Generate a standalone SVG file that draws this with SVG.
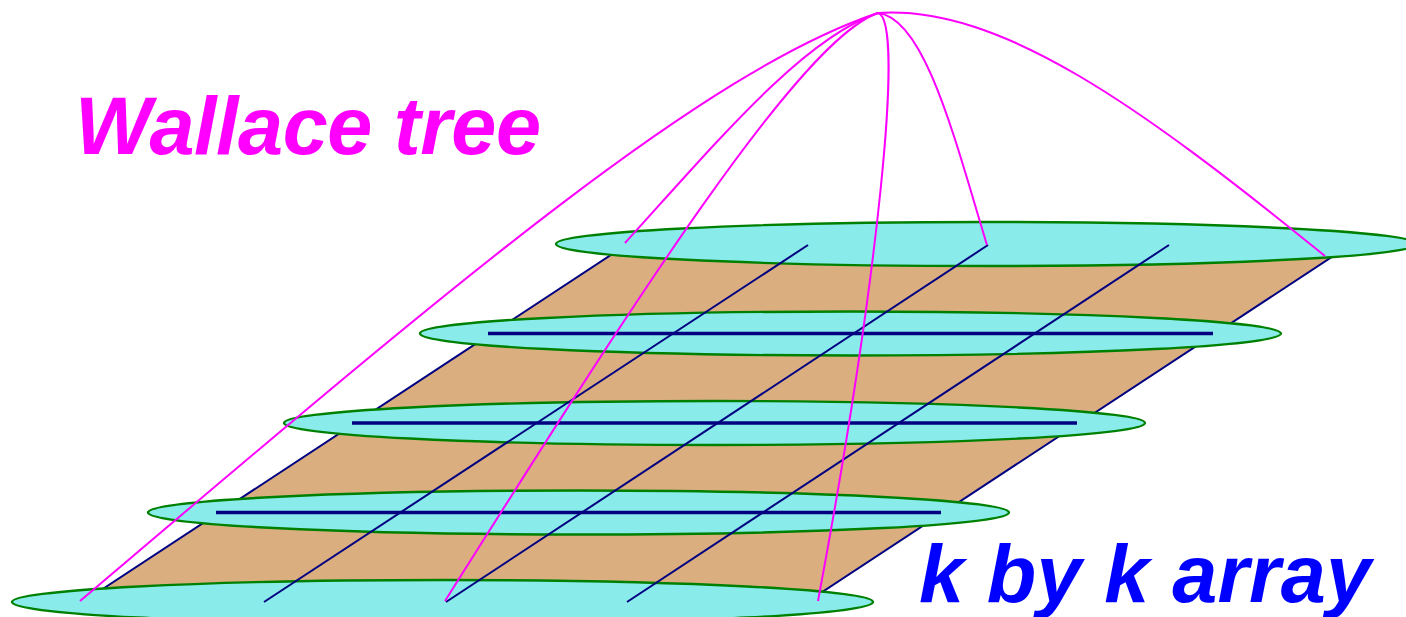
<svg xmlns="http://www.w3.org/2000/svg" width="1406" height="617" viewBox="0 0 1406 617">
  <style>
    .plane { fill: #DBAE7F; stroke: #000080; stroke-width: 2; }
    .row { fill: #8AEBEB; stroke: #008000; stroke-width: 2.4; }
    .hwire { stroke: #000080; stroke-width: 3.5; fill: none; }
    .dwire { stroke: #000080; stroke-width: 2; fill: none; }
    .tree { stroke: #FF00FF; stroke-width: 2; fill: none; }
    .label { font-family: "Liberation Sans", Arial, sans-serif; font-weight: bold; font-style: italic; font-size: 81px; }
  </style>

  <rect width="1406" height="617" fill="#FFFFFF"/>

  <!-- partial-product plane -->
  <g id="array-plane">
    <polygon class="plane" points="83,602 807,602 1350,245 626,245"/>
  </g>

  <!-- rows of the array, back to front -->
  <g id="row-5"><ellipse class="row" cx="986.5" cy="244" rx="430.5" ry="22"/></g>
  <g id="row-4">
    <ellipse class="row" cx="850.5" cy="333.5" rx="430.5" ry="22"/>
    <line class="hwire" x1="488" y1="333.5" x2="1213" y2="333.5"/>
  </g>
  <g id="row-3">
    <ellipse class="row" cx="714.5" cy="423" rx="430.5" ry="22"/>
    <line class="hwire" x1="352" y1="423" x2="1077" y2="423"/>
  </g>
  <g id="row-2">
    <ellipse class="row" cx="578.5" cy="512.5" rx="430.5" ry="22"/>
    <line class="hwire" x1="216" y1="512.5" x2="941" y2="512.5"/>
  </g>
  <g id="row-1"><ellipse class="row" cx="442.5" cy="602" rx="430.5" ry="22"/></g>

  <!-- column wires across the array -->
  <g id="columns">
    <line class="dwire" x1="264" y1="602" x2="808" y2="245"/>
    <line class="dwire" x1="446" y1="602" x2="988" y2="245"/>
    <line class="dwire" x1="627" y1="602" x2="1169" y2="245"/>
  </g>

  <!-- Wallace tree connections -->
  <g id="connectors">
    <path class="tree" d="M80,601 C434,301 698,73 878,13"/>
    <path class="tree" d="M878,13 C1000,5 1140,106 1325,256"/>
    <path class="tree" d="M625,243 C716,143 803,38 878,13"/>
    <path class="tree" d="M445,601 C634,301 800,40 878,13"/>
    <path class="tree" d="M878,13 C905,20 878,280 818,601"/>
    <path class="tree" d="M878,13 C925,18 955,140 987,245"/>
  </g>

  <g id="title"><text class="label" x="75" y="154" fill="#FF00FF" textLength="466" lengthAdjust="spacing">Wallace tree</text></g>
  <g id="caption"><text class="label" x="919" y="602" fill="#0000FF" textLength="452" lengthAdjust="spacing">k by k array</text></g>
</svg>
